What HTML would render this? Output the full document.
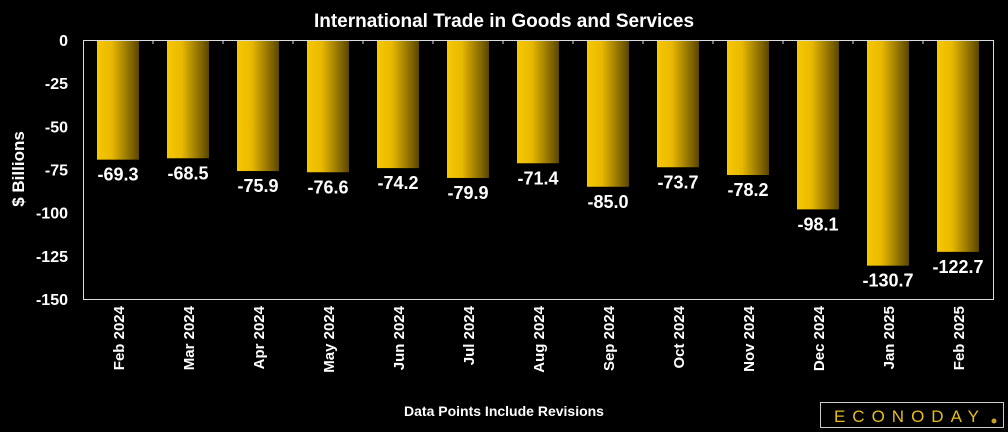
<!DOCTYPE html>
<html><head><meta charset="utf-8"><style>
body{margin:0;background:#000;}
svg{display:block;font-family:"Liberation Sans",sans-serif;}
</style></head><body>
<svg id="c" width="1008" height="432">
<defs><linearGradient id="g" x1="0" x2="1" y1="0" y2="0">
<stop offset="0" stop-color="#f7c800"/><stop offset="0.35" stop-color="#e8b900"/><stop offset="1" stop-color="#5a4600"/></linearGradient></defs>
<text x="504" y="27" fill="#fff" font-size="19" font-weight="bold" text-anchor="middle">International Trade in Goods and Services</text>
<text transform="translate(24,169) rotate(-90)" fill="#fff" font-size="17" font-weight="bold" text-anchor="middle">$ Billions</text>
<text x="504" y="416" fill="#fff" font-size="14" font-weight="bold" text-anchor="middle">Data Points Include Revisions</text>
<g>
<rect x="820.5" y="402.5" width="183" height="25" fill="none" stroke="#ccc" stroke-width="1"/>
<text x="910" y="422" fill="#e8bd1c" font-size="17" text-anchor="middle" letter-spacing="7">ECONODAY</text>
<circle cx="994" cy="421" r="2.5" fill="#c9a020"/>
</g>
<g id="plot"></g>
</svg>
<script>
const categories=["Feb 2024","Mar 2024","Apr 2024","May 2024","Jun 2024","Jul 2024","Aug 2024","Sep 2024","Oct 2024","Nov 2024","Dec 2024","Jan 2025","Feb 2025"];
const values=[-69.3,-68.5,-75.9,-76.6,-74.2,-79.9,-71.4,-85.0,-73.7,-78.2,-98.1,-130.7,-122.7];
const yTicks=[0,-25,-50,-75,-100,-125,-150];
const L=83,R=993,T=40,B=299,NS="http://www.w3.org/2000/svg";
const band=(R-L)/categories.length;
const y=v=>T+(0-v)/150*(B-T);
const x=i=>L+i*band;
const p=document.getElementById('plot');
function mk(t,a){const e=document.createElementNS(NS,t);for(const k in a)e.setAttribute(k,a[k]);p.appendChild(e);return e;}
yTicks.forEach(v=>{const t=mk('text',{x:68,y:y(v)+6,fill:'#fff','font-size':16,'font-weight':'bold','text-anchor':'end'});t.textContent=v;

});
values.forEach((v,i)=>{
const r=mk('rect',{x:x(i)+14,y:T,width:42,height:y(v)-T,fill:'url(#g)'});


const t=mk('text',{x:x(i)+band/2,y:y(v)+21,fill:'#fff','font-size':18,'font-weight':'bold','text-anchor':'middle'});t.textContent=v.toFixed(1);


const c=x(i)+band/2;
const xl=mk('text',{transform:`translate(${c+6},306) rotate(-90)`,fill:'#fff','font-size':15,'font-weight':'bold','text-anchor':'end'});xl.textContent=categories[i];


if(i>0){const tk=mk('line',{x1:x(i),x2:x(i),y1:T,y2:T+4,stroke:'#ddd'});

}
});
const f=mk('rect',{x:L+0.5,y:T+0.5,width:R-L,height:B-T,fill:'none',stroke:'#ddd','stroke-width':1});


</script>
</body></html>
